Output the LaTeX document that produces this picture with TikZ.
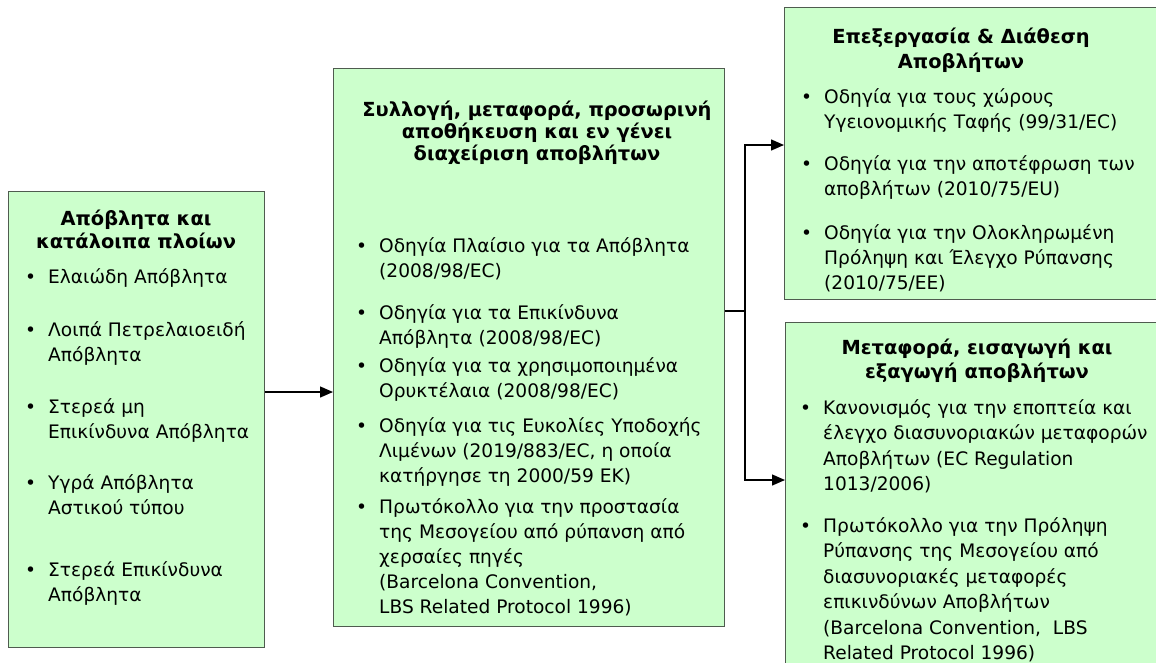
\documentclass[tikz,border=0pt]{standalone}
\usepackage{fontspec}
\setmainfont{DejaVu Sans}
\usetikzlibrary{arrows.meta,calc}
\definecolor{panelfill}{HTML}{CCFFCC}
\definecolor{panelline}{HTML}{4F5B4F}
\newcommand{\blt}[1]{\llap{\textbullet\hspace{12pt}}\begin{tabular}[t]{@{}l@{}}#1\end{tabular}}
\newcommand{\hdr}[1]{\begin{tabular}[t]{@{}c@{}}#1\end{tabular}}

\begin{document}
\begin{tikzpicture}
		[x=1pt,y=-1pt,
		panel/.style={draw=panelline,fill=panelfill,line width=1.3pt,anchor=north west,inner sep=0pt},
		entry/.style={anchor=base west,inner sep=0pt,font=\fontsize{18.6}{25}\selectfont},
		heading/.style={anchor=base,inner sep=0pt,font=\fontsize{19.4}{23}\selectfont\bfseries},
		link/.style={line width=1.4pt},
		arr/.style={link,-{Triangle[length=13pt,width=11pt]}}]
		\useasboundingbox (0,0) rectangle (1156,662);
		\clip (0,0) rectangle (1156,662);
		\node[panel,minimum width=256pt,minimum height=456pt] (waste) at (8,191) {};
		\node[panel,minimum width=391pt,minimum height=558pt] (coll) at (333,68) {};
		\node[panel,minimum width=400pt,minimum height=292pt] (proc) at (784,7) {};
		\node[panel,minimum width=400pt,minimum height=360pt] (trans) at (785,322) {};
		
		\node[heading] (wasteT) at (136,225) {\hdr{Απόβλητα και\\κατάλοιπα πλοίων}};
		\node[entry] (w1) at (48,283) {\blt{Ελαιώδη Απόβλητα}};
		\node[entry] (w2) at (48,336) {\blt{Λοιπά Πετρελαιοειδή\\Απόβλητα}};
		\node[entry] (w3) at (48,413) {\blt{Στερεά μη\\Επικίνδυνα Απόβλητα}};
		\node[entry] (w4) at (48,489) {\blt{Υγρά Απόβλητα\\Αστικού τύπου}};
		\node[entry] (w5) at (48,576) {\blt{Στερεά Επικίνδυνα\\Απόβλητα}};
		
		\node[heading,font=\fontsize{19.4}{22}\selectfont\bfseries] (collT) at (537,116)
			{\hdr{Συλλογή, μεταφορά, προσωρινή\\αποθήκευση και εν γένει\\διαχείριση αποβλήτων}};
		\begin{scope}[every node/.append style={font=\fontsize{18.6}{23.5}\selectfont}]
		\node[entry] (c1) at (379,252) {\blt{Οδηγία Πλαίσιο για τα Απόβλητα\\(2008/98/EC)}};
		\node[entry] (c2) at (379,319) {\blt{Οδηγία για τα Επικίνδυνα\\Απόβλητα (2008/98/EC)}};
		\node[entry] (c3) at (379,372) {\blt{Οδηγία για τα χρησιμοποιημένα\\Ορυκτέλαια (2008/98/EC)}};
		\node[entry] (c4) at (379,432) {\blt{Οδηγία για τις Ευκολίες Υποδοχής\\Λιμένων (2019/883/EC, η οποία\\κατήργησε τη 2000/59 ΕΚ)}};
		\node[entry] (c5) at (379,513) {\blt{Πρωτόκολλο για την προστασία\\της Μεσογείου από ρύπανση από\\χερσαίες πηγές\\(Barcelona Convention,\\LBS Related Protocol 1996)}};
		\end{scope}
		
		\node[heading,font=\fontsize{19.4}{25}\selectfont\bfseries] (procT) at (961,43) {\hdr{Επεξεργασία \& Διάθεση\\Αποβλήτων}};
		\node[entry] (p1) at (824,103) {\blt{Οδηγία για τους χώρους\\Υγειονομικής Ταφής (99/31/EC)}};
		\node[entry] (p2) at (824,170) {\blt{Οδηγία για την αποτέφρωση των\\αποβλήτων (2010/75/EU)}};
		\node[entry] (p3) at (824,239) {\blt{Οδηγία για την Ολοκληρωμένη\\Πρόληψη και Έλεγχο Ρύπανσης\\(2010/75/ΕΕ)}};
		
		\node[heading,font=\fontsize{19.4}{24}\selectfont\bfseries] (transT) at (977,354) {\hdr{Μεταφορά, εισαγωγή και\\εξαγωγή αποβλήτων}};
		\node[entry,font=\fontsize{18.6}{25.5}\selectfont] (t1) at (823,414) {\blt{Κανονισμός για την εποπτεία και\\έλεγχο διασυνοριακών μεταφορών\\Αποβλήτων (EC Regulation\\1013/2006)}};
		\node[entry,font=\fontsize{18.6}{25.5}\selectfont] (t2) at (823,532) {\blt{Πρωτόκολλο για την Πρόληψη\\Ρύπανσης της Μεσογείου από\\διασυνοριακές μεταφορές\\επικινδύνων Αποβλήτων\\(Barcelona Convention,\ \ LBS\\Related Protocol 1996)}};
		
		\coordinate (lvl) at (0,392);
		\coordinate (hub) at (745,311);
		\coordinate (upper) at (0,145);
		\coordinate (lower) at (0,480);
		\draw[arr] (waste.east |- lvl) -- (coll.west |- lvl);
		\draw[link] (coll.east |- hub) -- (hub);
		\path
		\foreach \endNode/\level in {proc/upper, trans/lower}
		{
			(hub) edge[arr,to path={|- (\tikztotarget)}] (\endNode.west |- \level)
		};
\end{tikzpicture}
\end{document}
